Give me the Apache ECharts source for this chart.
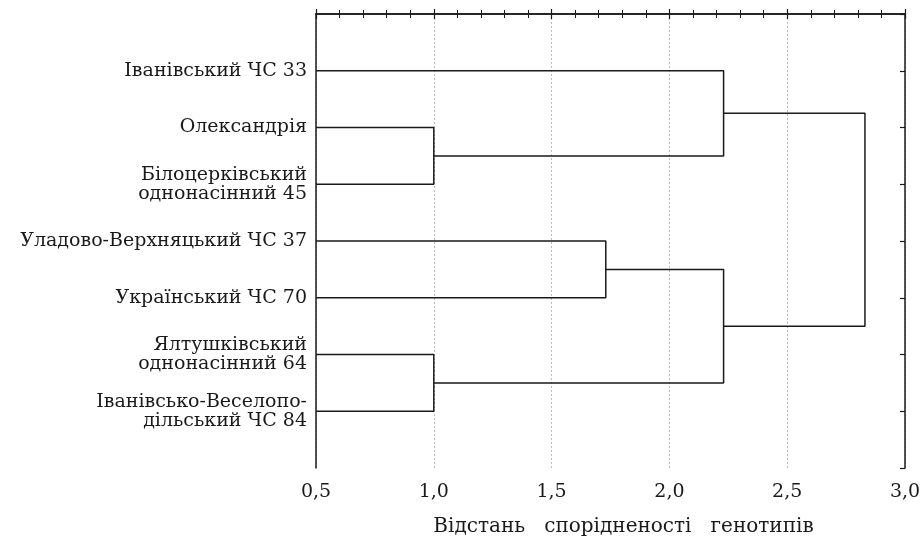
<!DOCTYPE html>
<html><head><meta charset="utf-8">
<script src="https://cdn.jsdelivr.net/npm/echarts@6/dist/echarts.min.js"></script>
<style>html,body{margin:0;padding:0;background:#fff}#c{width:920px;height:539px}</style>
</head><body><div id="c"></div>
<script>
// Leaves (top to bottom)
var leafNames = ['Іванівський ЧС 33', 'Олександрія', 'Білоцерківський\nоднонасінний 45', 'Уладово-Верхняцький ЧС 37', 'Український ЧС 70', 'Ялтушківський\nоднонасінний 64', 'Іванівсько-Веселопо-\nдільський ЧС 84'];
// Merges: [nodeA, nodeB, distance]; leaves are 0..6, merged clusters are 7,8,...
var mergeA = [1, 5, 3, 0, 9, 10];
var mergeB = [2, 6, 4, 7, 8, 11];
var mergeDist = [1.0, 1.0, 1.73, 2.23, 2.23, 2.83];
var xTicks = ['0,5', '1,0', '1,5', '2,0', '2,5', '3,0'];
var axisMin = 0.5;

// Build node positions
var nodeX = [], nodeY = [];
for (var i = 0; i < leafNames.length; i++) { nodeX.push(axisMin); nodeY.push(i + 1); }
var seriesData = [];
for (var m = 0; m < mergeDist.length; m++) {
  var a = mergeA[m], b = mergeB[m], d = mergeDist[m];
  seriesData.push([[nodeX[a], nodeY[a]], [d, nodeY[a]], [d, nodeY[b]], [nodeX[b], nodeY[b]]]);
  nodeX.push(d); nodeY.push((nodeY[a] + nodeY[b]) / 2);
}

var font = 'DejaVu Serif';
var series = seriesData.map(function (pts) {
  return { type: 'line', data: pts, symbol: 'none', silent: true, animation: false,
    lineStyle: { color: '#1a1a1a', width: 1.5 } };
});

var chart = echarts.init(document.getElementById('c'));
chart.setOption({
  backgroundColor: '#fff',
  animation: false,
  grid: { left: 316, right: 15, top: 14, bottom: 71, containLabel: false, outerBoundsMode: 'none' },
  xAxis: [{
    type: 'value', min: 0.5, max: 3.0, interval: 0.5, position: 'bottom',
    axisLine: { show: true, lineStyle: { color: '#1a1a1a', width: 1.5 } },
    axisTick: { show: true, inside: true, length: 5, lineStyle: { color: '#1a1a1a', width: 1.2 } },
    minorTick: { show: true, splitNumber: 5, length: 4, lineStyle: { color: '#1a1a1a', width: 1 } },
    splitLine: { show: true, lineStyle: { color: '#bbb', type: [2, 2], width: 1 } },
    axisLabel: { margin: 15, fontFamily: font, fontSize: 19, color: '#1a1a1a',
      formatter: function (v) { var k = Math.round((v - 0.5) / 0.5); return xTicks[k] || ''; } },
    name: 'Відстань   спорідненості   генотипів', nameLocation: 'middle', nameGap: 49,
    nameTextStyle: { fontFamily: font, fontSize: 20, color: '#1a1a1a', padding: [0, 0, 0, 26] }
  }, {
    type: 'value', min: 0.5, max: 3.0, interval: 0.5, position: 'top',
    axisLine: { show: true, lineStyle: { color: '#1a1a1a', width: 1.5 } },
    axisTick: { show: true, inside: true, length: 5, lineStyle: { color: '#1a1a1a', width: 1.2 } },
    minorTick: { show: true, splitNumber: 5, length: 4, lineStyle: { color: '#1a1a1a', width: 1 } },
    splitLine: { show: false }, axisLabel: { show: false }
  }],
  yAxis: [{
    type: 'value', min: 0, max: 8, interval: 1, inverse: true, position: 'left',
    axisLine: { show: true, lineStyle: { color: '#1a1a1a', width: 1.5 } },
    axisTick: { show: false }, splitLine: { show: false },
    axisLabel: { margin: 9, fontFamily: font, fontSize: 19, color: '#1a1a1a', lineHeight: 19, align: 'right',
      formatter: function (v) { return leafNames[v - 1] || ''; } }
  }, {
    type: 'value', min: 0, max: 8, interval: 1, inverse: true, position: 'right',
    axisLine: { show: true, lineStyle: { color: '#1a1a1a', width: 1.5 } },
    axisTick: { show: true, inside: true, length: 5, lineStyle: { color: '#1a1a1a', width: 1.2 } },
    splitLine: { show: false }, axisLabel: { show: false }
  }],
  series: series
});
</script></body></html>
